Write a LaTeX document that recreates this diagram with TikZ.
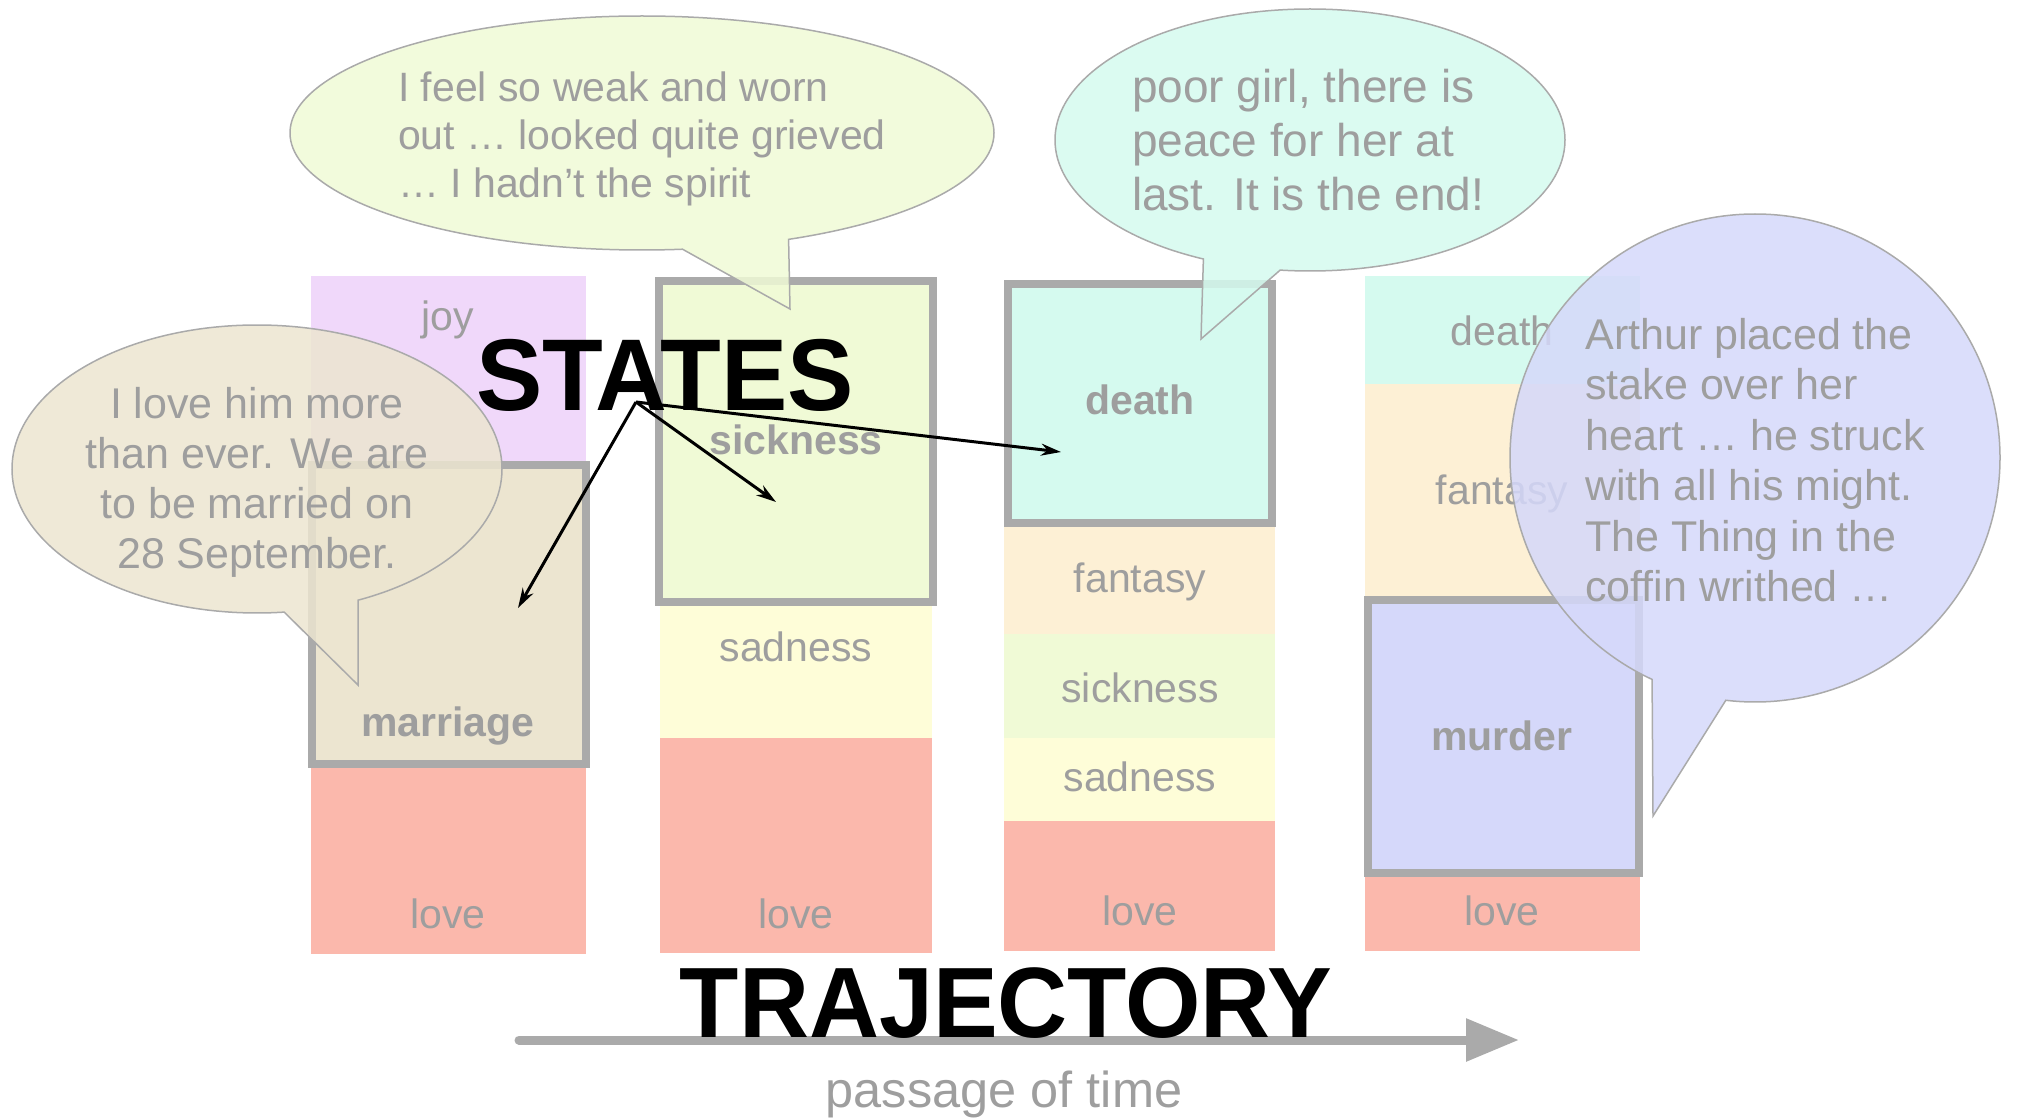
\documentclass[tikz,border=0pt]{standalone}
\usepackage{fontspec}
\setmainfont{Liberation Sans}
\usetikzlibrary{shapes.callouts,arrows.meta,positioning}
\definecolor{joyc}{RGB}{240,216,250}
\definecolor{marriagec}{RGB}{236,229,208}
\definecolor{lovec}{RGB}{251,184,172}
\definecolor{sicknessc}{RGB}{240,250,214}
\definecolor{sadnessc}{RGB}{254,253,216}
\definecolor{deathc}{RGB}{213,250,239}
\definecolor{fantasyc}{RGB}{253,240,213}
\definecolor{murderc}{RGB}{213,216,250}
\definecolor{lblgray}{RGB}{158,158,158}
\definecolor{framegray}{RGB}{170,170,170}

\begin{document}
\begin{tikzpicture}[x=1pt,y=-1pt,
    lbl/.style={text=lblgray,font=\fontsize{41}{48}\selectfont,anchor=base,inner sep=0pt},
    blbl/.style={lbl,font=\fontsize{41}{48}\selectfont\bfseries},
    frame/.style={draw=framegray,line width=8pt},
    bubble/.style={ellipse callout,draw=framegray,line width=1.5pt,fill opacity=0.85,
      inner sep=0pt,callout pointer arc=18},
    said/.style={text=lblgray,inner sep=0pt},
    big/.style={font=\fontsize{#1}{#1}\selectfont\bfseries,anchor=base,inner sep=0pt},
    statearrow/.style={-{Stealth[length=20pt,width=12pt]},line width=3pt}]
\useasboundingbox (0,0) rectangle (2019,1118);

% columns
\fill[joyc] (311,276) rectangle (586,466);
\fill[marriagec] (311,466) rectangle (586,764);
\fill[lovec] (311,764) rectangle (586,954);
\fill[sicknessc] (660,281) rectangle (932,602);
\fill[sadnessc] (660,602) rectangle (932,738);
\fill[lovec] (660,738) rectangle (932,953);
\fill[deathc] (1004,284) rectangle (1275,523);
\fill[fantasyc] (1004,523) rectangle (1275,634);
\fill[sicknessc] (1004,634) rectangle (1275,738);
\fill[sadnessc] (1004,738) rectangle (1275,821);
\fill[lovec] (1004,821) rectangle (1275,951);
\fill[deathc] (1365,276) rectangle (1640,384);
\fill[fantasyc] (1365,384) rectangle (1640,600);
\fill[murderc] (1365,600) rectangle (1640,873);
\fill[lovec] (1365,873) rectangle (1640,951);

\node[lbl] (joy1) at (448,330) {joy};
\node[blbl] (mar1) at (448,736) {marriage};
\node[lbl] (love1) at (448,928) {love};
\node[blbl] (sick2) at (796,454) {sickness};
\node[lbl] (sad2) at (796,661) {sadness};
\node[lbl] (love2) at (796,928) {love};
\node[blbl] (death3) at (1140,414) {death};
\node[lbl] (fan3) at (1140,592) {fantasy};
\node[lbl] (sick3) at (1140,702) {sickness};
\node[lbl] (sad3) at (1140,791) {sadness};
\node[lbl] (love3) at (1140,925) {love};
\node[lbl] (death4) at (1502,345) {death};
\node[lbl] (fan4) at (1502,504) {fantasy};
\node[blbl] (mur4) at (1502,750) {murder};
\node[lbl] (love4) at (1502,925) {love};

% current states
\draw[frame] (312,465) rectangle (586,764);
\draw[frame] (659,281) rectangle (933,602);
\draw[frame] (1008,284) rectangle (1272,523);
\draw[frame] (1368,600) rectangle (1639,873);

% speech
\node[bubble,fill=sicknessc,minimum width=704pt,minimum height=234pt,
  callout absolute pointer={(790,309)}] (weak) at (642,133) {};
\node[said,align=left,font=\fontsize{41}{48}\selectfont] (weaktxt) at (642,139)
  {I feel so weak and worn\\out … looked quite grieved\\… I hadn't the spirit};
\node[bubble,fill=deathc,minimum width=510pt,minimum height=262pt,
  callout absolute pointer={(1201,339)}] (poor) at (1310,140) {};
\node[said,align=left,font=\fontsize{46}{54}\selectfont] (poortxt) at (1308,140)
  {poor girl, there is\\peace for her at\\last. It is the end!};
\node[bubble,fill=marriagec,minimum width=490pt,minimum height=288pt,
  callout absolute pointer={(358,685)}] (lovehim) at (257,469) {};
\node[said,align=center,font=\fontsize{43}{50}\selectfont] (lovehimtxt) at (257,482)
  {I love him more\\than ever. We are\\to be married on\\28 September.};
\node[bubble,fill=murderc,minimum width=490pt,minimum height=488pt,
  callout absolute pointer={(1653,816)}] (arthur) at (1755,458) {};
\node[said,align=left,font=\fontsize{43}{50.5}\selectfont] (arthurtxt) at (1755,460)
  {Arthur placed the\\stake over her\\heart … he struck\\with all his might.\\The Thing in the\\coffin writhed …};

% states
\node[big=102] (states) at (665,410) {\scalebox{0.975}[1]{STATES}};
\coordinate (hub) at (636,402);
\coordinate (tmar) at (518,608);
\coordinate (tsick) at (776,502);
\coordinate (tdeath) at (1061,452);
\draw[statearrow] (hub) -- (tmar);
\draw[statearrow] (hub) -- (tsick);
\draw[statearrow] (hub) -- (tdeath);

% time
\coordinate (t0) at (519,1040);
\coordinate (t1) at (1519,1040);
\draw[framegray,line width=9pt,line cap=round,-{Triangle[length=53pt,width=41pt]}] (t0) -- (t1);
\node[big=100] (traj) at (1006,1037) {\scalebox{0.97}[1]{TRAJECTORY}};
\node[lbl,font=\fontsize{50.5}{58}\selectfont] (time) at (1004,1107) {passage of time};
\end{tikzpicture}
\end{document}
